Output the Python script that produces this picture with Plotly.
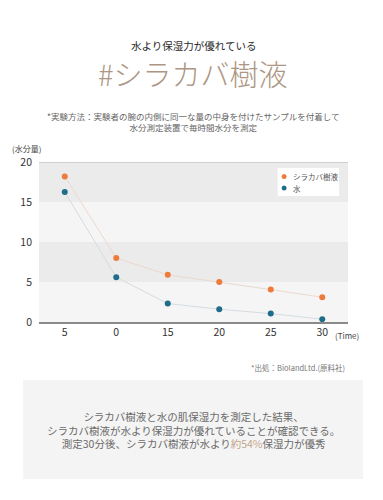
import plotly.graph_objects as go

categories = ["5", "0", "15", "20", "25", "30"]
birch_values = [18.2, 8.0, 5.9, 5.0, 4.05, 3.1]
water_values = [16.25, 5.6, 2.3, 1.6, 1.05, 0.35]
y_ticks = [0, 5, 10, 15, 20]
series_names = ["シラカバ樹液", "水"]

FONT = "Noto Sans CJK JP"
ORANGE = "#ee7a3c"
BLUE = "#1f6d8a"

# page has 8px body margin; figure is 375x492 drawn from (8,8)
OFF = 8
W, H = 383 - OFF, 500 - OFF
L, R, T, B = 36 - OFF, 383 - 348, 162 - OFF, 500 - 322
PW, PH = W - L - R, H - T - B


def px(pix):
    return (pix - OFF - L) / PW


def py(pix):
    return (H - (pix - OFF) - B) / PH


fig = go.Figure()
fig.add_trace(go.Scatter(
    x=categories, y=birch_values, mode="lines", showlegend=False,
    line=dict(color="#ecd9cf", width=1), hoverinfo="skip",
))
fig.add_trace(go.Scatter(
    x=categories, y=water_values, mode="lines", showlegend=False,
    line=dict(color="#d5dce1", width=1), hoverinfo="skip",
))
fig.add_trace(go.Scatter(
    x=categories, y=birch_values, name=series_names[0], mode="markers",
    marker=dict(color=ORANGE, size=6), showlegend=False,
))
fig.add_trace(go.Scatter(
    x=categories, y=water_values, name=series_names[1], mode="markers",
    marker=dict(color=BLUE, size=6), showlegend=False,
))

shapes = []
for y0, y1, col in [(15, 20, "#ebebeb"), (10, 15, "#f5f5f5"), (5, 10, "#ebebeb"), (0, 5, "#f5f5f5")]:
    shapes.append(dict(type="rect", xref="paper", yref="y", x0=0, x1=1, y0=y0, y1=y1,
                       fillcolor=col, line=dict(width=0), layer="below"))
shapes.append(dict(type="line", xref="paper", yref="y", x0=0, x1=1, y0=20, y1=20,
                   line=dict(color="#c6c6c6", width=1.5)))
# summary box
shapes.append(dict(type="rect", xref="paper", yref="paper", x0=px(20), x1=px(363),
                   y0=py(479), y1=py(380),
                   fillcolor="#f4f4f4", line=dict(width=0), layer="below"))
# legend box
shapes.append(dict(type="rect", xref="paper", yref="paper", x0=px(277), x1=px(339),
                   y0=py(196), y1=py(168),
                   fillcolor="white", line=dict(width=0)))
# legend markers
for cy, col in [(176.5, ORANGE), (188, BLUE)]:
    shapes.append(dict(type="circle", xref="paper", yref="paper",
                       x0=px(281), x1=px(286), y0=py(cy + 2.5), y1=py(cy - 2.5),
                       fillcolor=col, line=dict(width=0)))

annotations = [
    dict(text="水より保湿力が優れている", x=px(191.5), y=py(45), xref="paper", yref="paper",
         showarrow=False, font=dict(family=FONT, size=10.5, color="#2a2a2a"), xanchor="center", yanchor="middle"),
    dict(text="#シラカバ樹液", x=px(191.5), y=py(73), xref="paper", yref="paper",
         showarrow=False, font=dict(family=FONT, size=29, color="#ad9684", weight=300),
         xanchor="center", yanchor="middle"),
    dict(text="*実験方法：実験者の腕の内側に同一な量の中身を付けたサンプルを付着して<br>水分測定装置で毎時間水分を測定",
         x=px(191.5), y=py(121.5), xref="paper", yref="paper", showarrow=False, align="center",
         font=dict(family=FONT, size=8.5, color="#666666"), xanchor="center", yanchor="middle"),
    dict(text="(水分量)", x=px(7), y=py(148), xref="paper", yref="paper", showarrow=False,
         font=dict(family=FONT, size=8, color="#444444"), xanchor="left", yanchor="middle"),
    dict(text="(Time)", x=px(333), y=py(335), xref="paper", yref="paper", showarrow=False,
         font=dict(family=FONT, size=8, color="#444444"), xanchor="left", yanchor="middle"),
    dict(text="*出処：BiolandLtd.(原料社)", x=px(347), y=py(367), xref="paper", yref="paper", showarrow=False,
         font=dict(family=FONT, size=7.5, color="#777777"), xanchor="right", yanchor="middle"),
    dict(text=series_names[0], x=px(290), y=py(176.5), xref="paper", yref="paper", showarrow=False,
         font=dict(family=FONT, size=7.5, color="#555555"), xanchor="left", yanchor="middle"),
    dict(text=series_names[1], x=px(290), y=py(188), xref="paper", yref="paper", showarrow=False,
         font=dict(family=FONT, size=7.5, color="#555555"), xanchor="left", yanchor="middle"),
    dict(text="シラカバ樹液と水の肌保湿力を測定した結果、<br>シラカバ樹液が水より保湿力が優れていることが確認できる。<br>測定30分後、シラカバ樹液が水より<span style='color:#c4a58a'>約54%</span>保湿力が優秀",
         x=px(191.5), y=py(430), xref="paper", yref="paper", showarrow=False, align="center",
         font=dict(family=FONT, size=10.5, color="#6a6a6a"), xanchor="center", yanchor="middle"),
]

fig.update_layout(
    width=W, height=H,
    margin=dict(l=L, r=R, t=T, b=B),
    paper_bgcolor="white", plot_bgcolor="#f5f5f5",
    font=dict(family=FONT, color="#333333"),
    shapes=shapes, annotations=annotations,
    showlegend=False,
    xaxis=dict(type="category", range=[-0.5, 5.5], showgrid=False, zeroline=False,
               showline=True, linecolor="#8a8a8a", linewidth=1.5, ticks="",
               tickfont=dict(size=10.5, color="#333333"), fixedrange=True),
    yaxis=dict(range=[0, 20], tickvals=y_ticks, showgrid=False, zeroline=False, showline=False,
               ticks="", ticklabelstandoff=6, tickfont=dict(size=10.5, color="#333333"), fixedrange=True),
)

fig.write_html("out.html", config={"displayModeBar": False})
